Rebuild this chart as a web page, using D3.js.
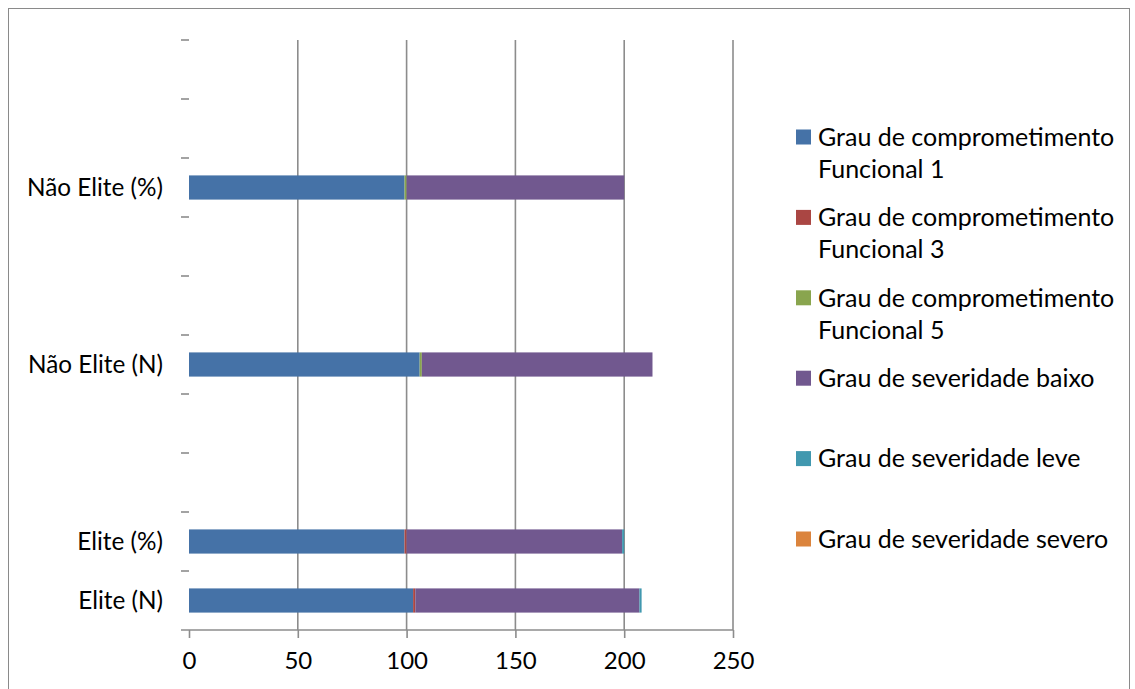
<!DOCTYPE html>
<html>
<head>
<meta charset="utf-8">
<script src="https://cdn.jsdelivr.net/npm/d3@7"></script>
<style>
  html, body { margin: 0; padding: 0; background: #fff; }
  svg { display: block; font-family: Lato, "Open Sans", sans-serif; }
</style>
</head>
<body>
<svg id="chart" width="1135" height="689"></svg>
<script>
// Category slots, bottom to top (blank slots are empty rows of the sheet)
const categories = ["Elite (N)", "Elite (%)", "", "", "Não Elite (N)", "", "", "Não Elite (%)", "", ""];

const seriesNames = [
  "Grau de comprometimento Funcional 1",
  "Grau de comprometimento Funcional 3",
  "Grau de comprometimento Funcional 5",
  "Grau de severidade baixo",
  "Grau de severidade leve",
  "Grau de severidade severo"
];

// Values per category slot
const funcional1 = [103, 99.04, 0, 0, 106, 0, 0, 99.07, 0, 0];
const funcional3 = [1, 0.96, 0, 0, 0, 0, 0, 0, 0, 0];
const funcional5 = [0, 0, 0, 0, 1, 0, 0, 0.93, 0, 0];
const severidadeBaixo = [103, 99.04, 0, 0, 106, 0, 0, 100, 0, 0];
const severidadeLeve = [1, 0.96, 0, 0, 0, 0, 0, 0, 0, 0];
const severidadeSevero = [0, 0, 0, 0, 0, 0, 0, 0, 0, 0];

const xTicks = [0, 50, 100, 150, 200, 250];

const colors = ["#4572A7", "#AA4643", "#89A54E", "#71588F", "#4198AF", "#DB843D"];

const seriesValues = [funcional1, funcional3, funcional5, severidadeBaixo, severidadeLeve, severidadeSevero];

const svg = d3.select("#chart");
const plot = { left: 189, right: 733, top: 40, bottom: 630 };

// outer frame
svg.append("rect")
  .attr("x", 8.5).attr("y", 8.5)
  .attr("width", 1121).attr("height", 700)
  .attr("fill", "none").attr("stroke", "#8a8a8a").attr("stroke-width", 1);

const x = d3.scaleLinear().domain([0, 250]).range([plot.left, plot.right]);
const y = d3.scaleBand()
  .domain(d3.range(categories.length))
  .range([plot.bottom, plot.top])
  .paddingInner(0.59).paddingOuter(0.295);

// vertical gridlines
svg.append("g").selectAll("line")
  .data(xTicks.filter(d => d > 0))
  .join("line")
  .attr("x1", d => x(d)).attr("x2", d => x(d))
  .attr("y1", plot.top).attr("y2", plot.bottom)
  .attr("stroke", "#8c8c8c").attr("stroke-width", 1.6);

// stacked rows
const rows = categories.map((c, i) => {
  const r = { idx: i };
  seriesNames.forEach((s, k) => { r[s] = seriesValues[k][i]; });
  return r;
});
const stacked = d3.stack().keys(seriesNames)(rows);

svg.append("g").selectAll("g")
  .data(stacked)
  .join("g")
  .attr("fill", (d, k) => colors[k])
  .selectAll("rect")
  .data(d => d.filter(p => p[1] - p[0] > 0))
  .join("rect")
  .attr("x", p => x(p[0]))
  .attr("width", p => x(p[1]) - x(p[0]))
  .attr("y", p => y(p.data.idx))
  .attr("height", y.bandwidth());

// x axis
const xAxis = d3.axisBottom(x).tickValues(xTicks).tickSize(8).tickPadding(14);
const gx = svg.append("g")
  .attr("transform", `translate(0,${plot.bottom})`)
  .call(xAxis);
gx.select(".domain").remove();
gx.selectAll(".tick line").attr("stroke", "#8c8c8c").attr("stroke-width", 1.6);
gx.selectAll(".tick text").attr("font-size", 24).attr("fill", "#000")
  .attr("font-family", "Lato, sans-serif");
svg.append("line")
  .attr("x1", 181).attr("x2", plot.right)
  .attr("y1", plot.bottom).attr("y2", plot.bottom)
  .attr("stroke", "#8c8c8c").attr("stroke-width", 1.6);

// y tick marks between category slots
const step = y.step();
svg.append("g").selectAll("line")
  .data(d3.range(categories.length))
  .join("line")
  .attr("x1", 181).attr("x2", plot.left)
  .attr("y1", i => plot.top + i * step).attr("y2", i => plot.top + i * step)
  .attr("stroke", "#8c8c8c").attr("stroke-width", 1.6);

// y labels
svg.append("g").selectAll("text")
  .data(categories.map((c, i) => ({ c, i })).filter(d => d.c))
  .join("text")
  .attr("x", 163)
  .attr("y", d => y(d.i) + y.bandwidth() / 2)
  .attr("dy", "0.35em")
  .attr("text-anchor", "end")
  .attr("font-size", 24.3)
  .text(d => d.c);

// legend
const legendItems = [
  ["Grau de comprometimento", "Funcional 1"],
  ["Grau de comprometimento", "Funcional 3"],
  ["Grau de comprometimento", "Funcional 5"],
  ["Grau de severidade baixo"],
  ["Grau de severidade leve"],
  ["Grau de severidade severo"]
];
const lg = svg.append("g").selectAll("g")
  .data(legendItems)
  .join("g")
  .attr("transform", (d, i) => `translate(796,${137 + i * 80.4})`);
lg.append("rect")
  .attr("x", 0).attr("y", -7.5).attr("width", 15).attr("height", 15)
  .attr("fill", (d, i) => colors[i]);
lg.each(function(lines) {
  const g = d3.select(this);
  lines.forEach((t, j) => {
    g.append("text")
      .attr("x", 22).attr("y", j * 32)
      .attr("dy", "0.35em")
      .attr("font-size", 25)
      .text(t);
  });
});
</script>
</body>
</html>
